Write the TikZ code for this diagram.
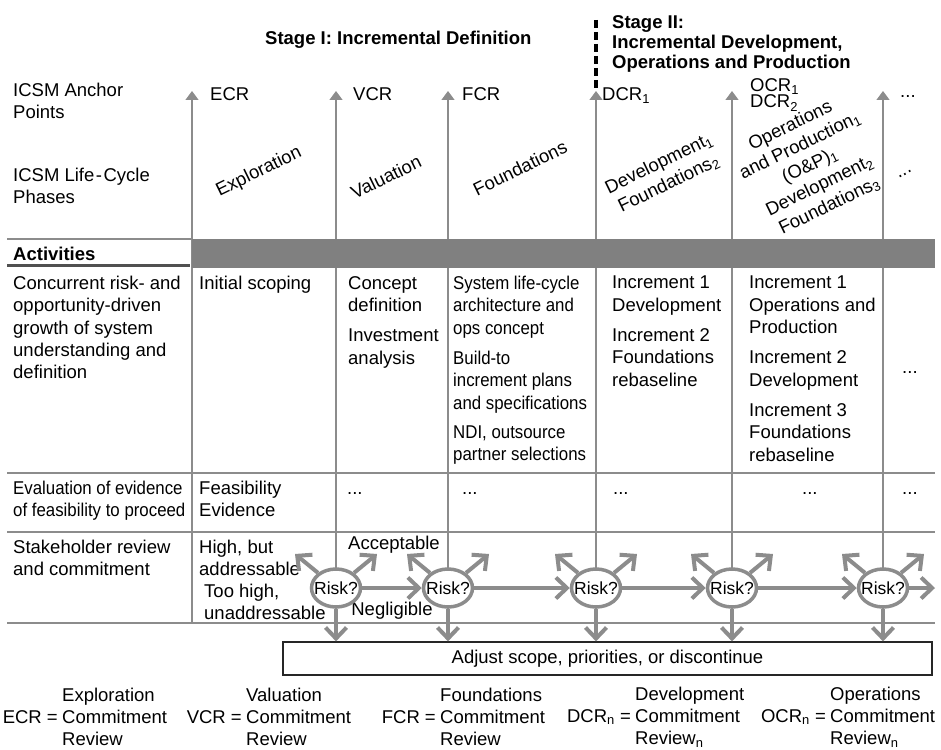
\documentclass[tikz,border=0pt]{standalone}
\usepackage{fontspec}
\setmainfont{Liberation Sans}
\newfontfamily\etroit[FakeStretch=0.91]{Liberation Sans}
\usetikzlibrary{arrows.meta,shapes.geometric}
\definecolor{gris}{HTML}{8C8C8C}
\definecolor{barre}{HTML}{808080}
\definecolor{fonce}{HTML}{505050}
\begin{document}
\begin{tikzpicture}[x=1pt, y=-1pt, font=\fontsize{18.5}{22.3}\selectfont]
	\tikzset{cellule/.style={anchor=north west, align=left, inner sep=0pt},
	etroite/.style={font=\fontsize{18.5}{22.3}\etroit},
	texte/.style={anchor=west, inner sep=0pt},
	points/.style={anchor=base west, inner sep=0pt},
	phase/.style={rotate=26, align=center, inner sep=0pt},
	titre/.style={inner sep=0pt, align=left, font=\fontsize{18.5}{20}\selectfont\bfseries},
	risque/.style={ellipse, draw=gris, line width=3.5pt, fill=white, minimum width=49pt, minimum height=38pt, inner sep=0pt, font=\fontsize{17.5}{20}\selectfont},
	jalon/.style={draw=gris, line width=1.3pt, -{Triangle[width=13pt, length=9pt]}},
	fleche/.style={draw=gris, line width=4pt, -{Straight Barb[width=21pt, length=11pt]}},
	trait/.style={draw=gris, line width=1.3pt}};

	\useasboundingbox (0,0) rectangle (941,749);

	\node[titre, anchor=west] (etape1) at (265,40) {Stage I: Incremental Definition};
	\node[titre, anchor=north west] (etape2) at (612,15) {Stage II:\\Incremental Development,\\Operations and Production};
	\draw[line width=3.5pt, dash pattern=on 8pt off 4pt] (596,20) -- (596,88);

	\node[cellule] (ancre) at (13,83) {ICSM Anchor\\Points};
	\node[cellule] (cycle) at (13,168) {ICSM Life\kern1.5pt-\kern1.5pt Cycle\\Phases};

	\foreach \nom/\x in {ecr/192, vcr/336, fcr/448, dcr/596, ocr/732, suite/883}{
		\coordinate (haut-\nom) at (\x,91);
		\coordinate (bas-\nom) at (\x,623);
		\draw[jalon] (bas-\nom) -- (haut-\nom);
	}
	\node[texte] (j-ecr) at (210,94) {ECR};
	\node[texte] (j-vcr) at (353,94) {VCR};
	\node[texte] (j-fcr) at (462,94) {FCR};
	\node[texte] (j-dcr) at (602,96) {DCR\textsubscript{1}};
	\node[texte, align=left, font=\fontsize{18.5}{16}\selectfont] (j-ocr) at (750,95) {OCR\textsubscript{1}\\DCR\textsubscript{2}};
	\node[texte] (j-suite) at (900,97) {...};

	\node[phase] (p-exp) at (259,172) {Exploration};
	\node[phase] (p-val) at (386,177) {Valuation};
	\node[phase] (p-fon) at (520,168) {Foundations};
	\node[phase] (p-dev) at (664,174) {Development\textsubscript{1}\\Foundations\textsubscript{2}};
	\node[phase] (p-ope) at (810,166) {Operations\\and Production\textsubscript{1}\\(O\&P)\textsubscript{1}\\Development\textsubscript{2}\\Foundations\textsubscript{3}};
	\node[phase] (p-suite) at (905,174) {...};

	\draw[trait] (7,239) -- (192,239);
	\fill[barre] (192,239) rectangle (935,268);
	\node[texte, font=\fontsize{18.5}{22.3}\selectfont\bfseries] (activites) at (13,254) {Activities};
	\draw[fonce, line width=3pt] (7,265) -- (190,265);
	\foreach \y in {473,532,623}
		\draw[trait] (7,\y) -- (935,\y);

	\node[cellule] (a0) at (13,276) {Concurrent risk- and\\opportunity-driven\\growth of system\\understanding and\\definition};
	\node[cellule] (a1) at (199,276) {Initial scoping};
	\node[cellule] (a2) at (348,276) {Concept\\definition\\[8pt]Investment\\analysis};
	\node[cellule, etroite] (a3) at (453,276) {System life-cycle\\architecture and\\ops concept\\[8pt]Build-to\\increment plans\\and specifications\\[7pt]NDI, outsource\\partner selections};
	\node[cellule] (a4) at (612,276) {Increment 1\\Development\\[8pt]Increment 2\\Foundations\\rebaseline};
	\node[cellule] (a5) at (749,276) {Increment 1\\Operations and\\Production\\[8pt]Increment 2\\Development\\[8pt]Increment 3\\Foundations\\rebaseline};
	\node[texte] (a6) at (902,373) {...};

	\node[cellule, etroite] (e0) at (13,481) {Evaluation of evidence\\of feasibility to proceed};
	\node[cellule] (e1) at (199,481) {Feasibility\\Evidence};
	\foreach \x in {347,462,613,802,902}
		\node[points] (e-\x) at (\x,494) {...};

	\node[cellule] (s0) at (13,540) {Stakeholder review\\and commitment};
	\node[cellule] (haute) at (199,540) {High, but\\addressable};
	\node[cellule] (tropHaute) at (204,584) {Too high,\\unaddressable};
	\node[texte] (acceptable) at (348,545) {Acceptable};
	\node[inner sep=0pt] (negligeable) at (392,611) {Negligible};

	\node[draw=black!85, line width=1.2pt, minimum width=649pt, minimum height=33pt, inner sep=0pt] (ajuster) at (607.5,658.5) {Adjust scope, priorities, or discontinue};

	\foreach \i/\x in {1/336, 2/448, 3/596, 4/732, 5/883}
		\node[risque] (r\i) at (\x,588) {\makebox[0pt]{Risk?}};
	\foreach \i/\j in {1/2, 2/3, 3/4, 4/5}
		\draw[fleche] (r\i) -- (r\j);
	\coordinate (fin) at (935,588);
	\draw[fleche] (r5) -- (fin);
	\foreach \i in {1,...,5}{
		\coordinate (hg\i) at ([shift={(-41,-34)}]r\i.center);
		\coordinate (hd\i) at ([shift={(41,-34)}]r\i.center);
		\draw[fleche] (r\i.140) -- (hg\i);
		\draw[fleche] (r\i.40) -- (hd\i);
		\draw[fleche] (r\i) -- (r\i |- ajuster.north);
	}

	\foreach \nom/\ab/\x/\mot in {ecr/ECR/62/Exploration, vcr/VCR/246/Valuation, fcr/FCR/440/Foundations}{
		\node[cellule, anchor=west] (l-\nom) at (\x,717) {\mot\\Commitment\\Review};
		\node[anchor=east, inner sep=0pt] (s-\nom) at ([xshift=-4pt]l-\nom.west) {\ab\ =};
	}
	\foreach \nom/\ab/\x/\mot in {dcr/DCR/635/Development, ocr/OCR/830/Operations}{
		\node[cellule, anchor=west] (l-\nom) at (\x,717) {\mot\\Commitment\\Review\textsubscript{n}};
		\node[anchor=east, inner sep=0pt] (s-\nom) at ([xshift=-4pt]l-\nom.west) {\ab\textsubscript{n} =};
	}
\end{tikzpicture}
\end{document}
